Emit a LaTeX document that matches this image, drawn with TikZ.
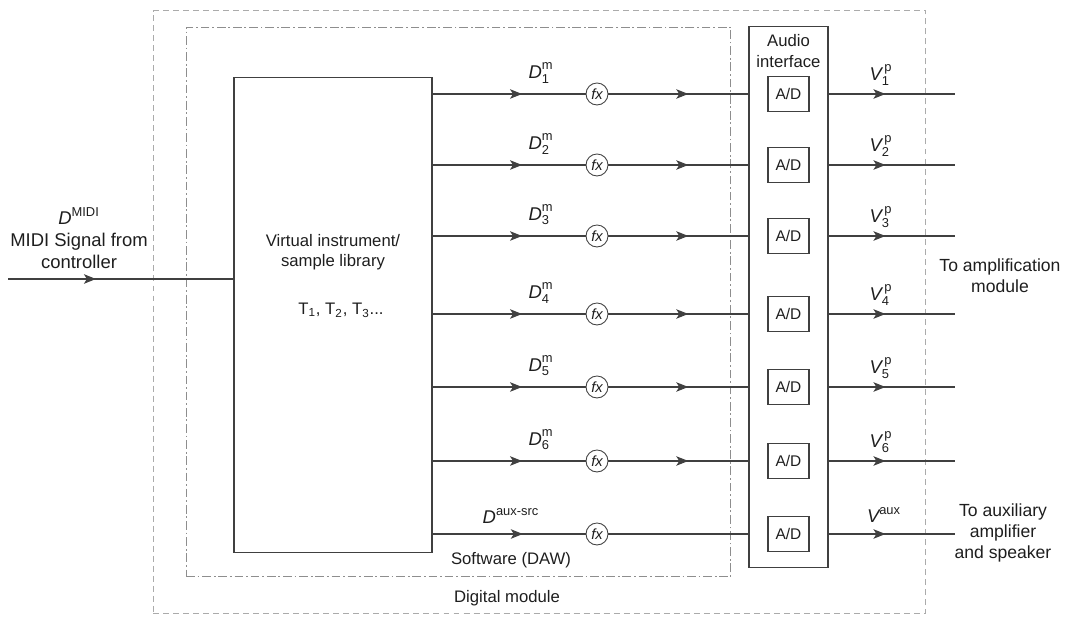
\documentclass[tikz,border=0pt]{standalone}
\usepackage{amsmath}
\usepackage{fontspec}
\setmainfont{Liberation Sans}
\usetikzlibrary{arrows.meta,positioning,decorations.markings}
\definecolor{ink}{HTML}{1E1E1E}
\definecolor{boxgray}{HTML}{404040}
\definecolor{dashgray}{HTML}{ABABAB}
\definecolor{dotgray}{HTML}{8E8E8E}
\tikzset{
  frameout/.style={draw=dashgray,line width=0.6pt,dash pattern=on 3.4pt off 2.3pt,
                   inner sep=0pt},
  framein/.style={draw=dotgray,line width=0.6pt,
                  dash pattern=on 5pt off 1.6pt on 1pt off 1.6pt,inner sep=0pt},
  bigbox/.style={draw=boxgray,line width=0.6pt,inner sep=0pt},
  adbox/.style={draw=boxgray,line width=0.6pt,minimum width=0.82cm,
                minimum height=0.7cm,inner sep=0pt,text=ink,
                font=\fontsize{8.8}{10}\selectfont},
  fxnode/.style={draw=boxgray,circle,line width=0.5pt,minimum size=0.44cm,
                 inner sep=0pt,text=ink,font=\fontsize{8.4}{9}\selectfont\itshape},
  sigline/.style={draw=boxgray,line width=0.6pt},
  midarrow/.style={postaction={decorate},
                   decoration={markings,mark=at position #1 with
                     {\arrow{Stealth[length=2.4mm,width=1.9mm,inset=0.6mm]}}}},
  txt/.style={text=ink,align=center,inner sep=0pt,
              font=\fontsize{9.5}{11.5}\selectfont},
  siglabel/.style={text=ink,inner sep=0pt,font=\fontsize{10.5}{12}\selectfont}
}

\begin{document}
\begin{tikzpicture}[x=0.02cm,y=-0.02cm,>=Stealth]
  \useasboundingbox (0,0) rectangle (1069,617);
  % module frames
  \node[frameout,minimum width=15.46cm,minimum height=12.06cm] (digital) at (539.5,312) {};
  \node[framein,minimum width=10.9cm,minimum height=11cm] (daw) at (458.5,302) {};
  \node[txt] (digitallbl) at (507,598) {Digital module};
  \node[txt] (dawlbl) at (511,560) {Software (DAW)};

  % instrument and interface blocks
  \node[bigbox,minimum width=3.96cm,minimum height=9.52cm] (vi) at (333,315) {};
  \node[txt] (vilbl) at (333,252) {Virtual instrument/\\sample library};
  \node[txt] (tracks) at (341,310) {T$_{\text{1}}$, T$_{\text{2}}$, T$_{\text{3}}$...};
  \node[bigbox,minimum width=1.58cm,minimum height=10.84cm] (ai) at (788.5,297) {};
  \node[txt] (ailbl) at (788.5,51) {Audio\\interface};

  % MIDI input
  \coordinate (midiin) at (8,279);
  \draw[sigline,midarrow=0.39] (midiin) -- (vi.west |- midiin);
  \node[txt,font=\fontsize{10.5}{12.5}\selectfont] (midilbl) at (79,238)
    {$\textit{D}^{\text{MIDI}}$\\MIDI Signal from\\controller};

  % track channels
  \foreach \i/\yy in {1/94,2/165,3/236,4/314,5/387,6/461} {
    \node[fxnode] (fx\i) at (597,\yy) {fx};
    \node[adbox] (ad\i) at (788.5,\yy) {A/D};
    \coordinate (out\i) at (955,\yy);
    \draw[sigline,midarrow=0.585] (vi.east |- fx\i) -- (fx\i);
    \draw[sigline,midarrow=0.57] (fx\i) -- (ai.west |- fx\i);
    \draw[sigline,midarrow=0.45] (ai.east |- fx\i) -- (out\i);
    \node[siglabel] (dm\i) at (541,\yy-21) {$\textit{D}^{\text{m}}_{\text{\i}}$};
    \node[siglabel] (vp\i) at (881,\yy-19) {$\textit{V}^{\,\text{p}}_{\text{\i}}$};
  }

  % auxiliary channel
  \node[fxnode] (fx7) at (597,534) {fx};
  \node[adbox] (ad7) at (788.5,534) {A/D};
  \coordinate (out7) at (955,534);
  \draw[sigline,midarrow=0.59] (vi.east |- fx7) -- (fx7);
  \draw[sigline] (fx7) -- (ai.west |- fx7);
  \draw[sigline,midarrow=0.45] (ai.east |- fx7) -- (out7);
  \node[siglabel] (dsrc) at (511,516) {$\textit{D}^{\text{aux-src}}$};
  \node[siglabel] (vaux) at (884,515) {$\textit{V}^{\text{aux}}$};

  % destinations
  \node[txt,font=\fontsize{10}{12}\selectfont] (amplbl) at (1000,276) {To amplification\\module};
  \node[txt,font=\fontsize{10}{12}\selectfont] (auxlbl) at (1003,533) {To auxiliary\\amplifier\\and speaker};
\end{tikzpicture}
\end{document}
